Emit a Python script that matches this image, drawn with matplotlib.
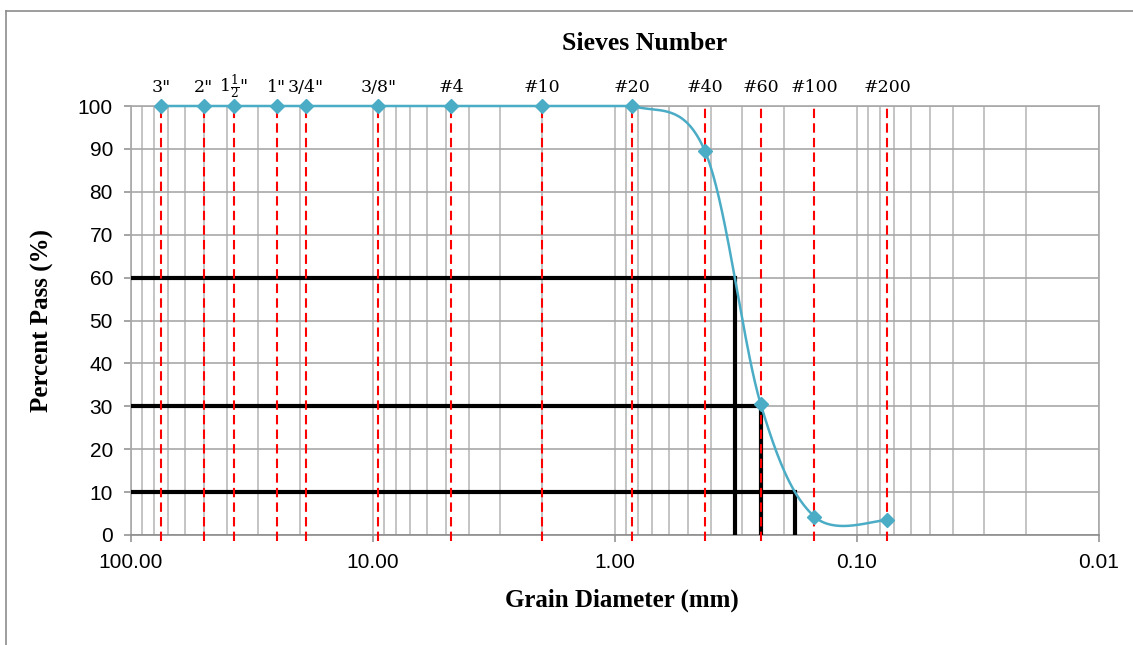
import numpy as np
import matplotlib.pyplot as plt
from matplotlib.ticker import FixedLocator, FixedFormatter, NullFormatter
from matplotlib.lines import Line2D

plt.rcParams['mathtext.fontset'] = 'dejavuserif'

# Sieve data
sieve_labels = ['3"', '2"', r'1$\frac{1}{2}$"', '1"', '3/4"', '3/8"',
                '#4', '#10', '#20', '#40', '#60', '#100', '#200']
sieve_mm = [75, 50, 37.5, 25, 19, 9.5, 4.75, 2.0, 0.85, 0.425, 0.25, 0.15, 0.075]
percent_pass = [100, 100, 100, 100, 100, 100, 100, 100, 100, 89.5, 30.5, 4.3, 3.5]

# D60 / D30 / D10
d_percent = [60, 30, 10]
d_size = [0.32, 0.25, 0.18]

x_ticks = [100, 10, 1, 0.1, 0.01]
x_ticklabels = ['100.00', '10.00', '1.00', '0.10', '0.01']
y_ticks = list(range(0, 101, 10))


def smooth_curve(x, y, n=40):
    # excel style smoothed line (catmull-rom bezier) in log-x space
    p = np.column_stack([np.log10(x), y])
    out = []
    for i in range(len(p) - 1):
        p0 = p[i - 1] if i > 0 else p[i]
        p1, p2 = p[i], p[i + 1]
        p3 = p[i + 2] if i + 2 < len(p) else p[i + 1]
        c1 = p1 + (p2 - p0) / 6.0
        c2 = p2 - (p3 - p1) / 6.0
        t = np.linspace(0, 1, n)[:, None]
        seg = ((1 - t) ** 3) * p1 + 3 * ((1 - t) ** 2) * t * c1 \
            + 3 * (1 - t) * t ** 2 * c2 + t ** 3 * p2
        out.append(seg)
    out = np.vstack(out)
    return 10 ** out[:, 0], out[:, 1]


W, H = 1133, 645
fig = plt.figure(figsize=(W / 100, H / 100), dpi=100)
ax = fig.add_axes([131 / W, 1 - 535 / H, (1099 - 131) / W, (535 - 106) / H])

ax.set_xscale('log')
ax.set_xlim(100, 0.01)
ax.set_ylim(0, 100)

ax.xaxis.set_major_locator(FixedLocator(x_ticks))
ax.xaxis.set_major_formatter(FixedFormatter(x_ticklabels))
minor = [m * 10.0 ** e for e in range(-2, 2) for m in range(2, 10)]
ax.xaxis.set_minor_locator(FixedLocator(minor))
ax.xaxis.set_minor_formatter(NullFormatter())
ax.set_yticks(y_ticks)

grid_col = '#a8a8a8'
ax.grid(True, which='both', axis='x', color='#b4b4b4', lw=1.1, zorder=0)
ax.grid(True, which='major', axis='y', color=grid_col, lw=1.2, zorder=0)
ax.set_axisbelow(True)
for s in ax.spines.values():
    s.set_color(grid_col)
    s.set_linewidth(1.2)
ax.spines['bottom'].set_color('#8c8c8c')

ax.tick_params(which='major', length=5, width=1.1, color='#8c8c8c',
               labelsize=15, pad=8)
ax.tick_params(axis='x', which='minor', length=0)
for lab in ax.get_xticklabels() + ax.get_yticklabels():
    lab.set_fontfamily('Liberation Sans')

# D60, D30, D10 lines
for p, d in zip(d_percent, d_size):
    ax.plot([100, d, d], [p, p, 0], color='black', lw=3,
            solid_joinstyle='miter', zorder=3)

# sieve lines
ax.vlines(sieve_mm, -1.5, 100, colors='red', linestyles=(0, (4.5, 2.5)),
          lw=1.5, clip_on=False, zorder=4)

# gradation curve (clipped at the plot top like excel)
cx, cy = smooth_curve(sieve_mm, percent_pass)
cy = np.minimum(cy, 100)
ax.plot(cx, cy, color='#4bacc6', lw=1.8, zorder=5, clip_on=False)
ax.plot(sieve_mm, percent_pass, ls='none', marker='D', ms=7,
        color='#4bacc6', zorder=6, clip_on=False)

# sieve labels
for lab, d in zip(sieve_labels, sieve_mm):
    ax.annotate(lab, xy=(d, 1.0), xycoords=('data', 'axes fraction'),
                xytext=(0, 10), textcoords='offset points',
                ha='center', va='baseline', fontsize=12.5,
                fontfamily='DejaVu Serif')

fig.text(645 / W, 1 - 44 / H, 'Sieves Number', ha='center', va='center',
         fontsize=18.5, fontweight='bold', fontfamily='Liberation Serif')
fig.text(622 / W, 1 - 600 / H, 'Grain Diameter (mm)', ha='center', va='center',
         fontsize=18, fontweight='bold', fontfamily='Liberation Serif')
fig.text(42 / W, 1 - 320 / H, 'Percent Pass (%)', ha='center', va='center',
         rotation=90, fontsize=18, fontweight='bold', fontfamily='Liberation Serif')

# outer chart border
fig.add_artist(Line2D([6 / W, 1.0], [1 - 11 / H, 1 - 11 / H], color='#8c8c8c', lw=1.2))
fig.add_artist(Line2D([6 / W, 6 / W], [0, 1 - 11 / H], color='#8c8c8c', lw=1.2))

fig.savefig('out.png', dpi=100)
